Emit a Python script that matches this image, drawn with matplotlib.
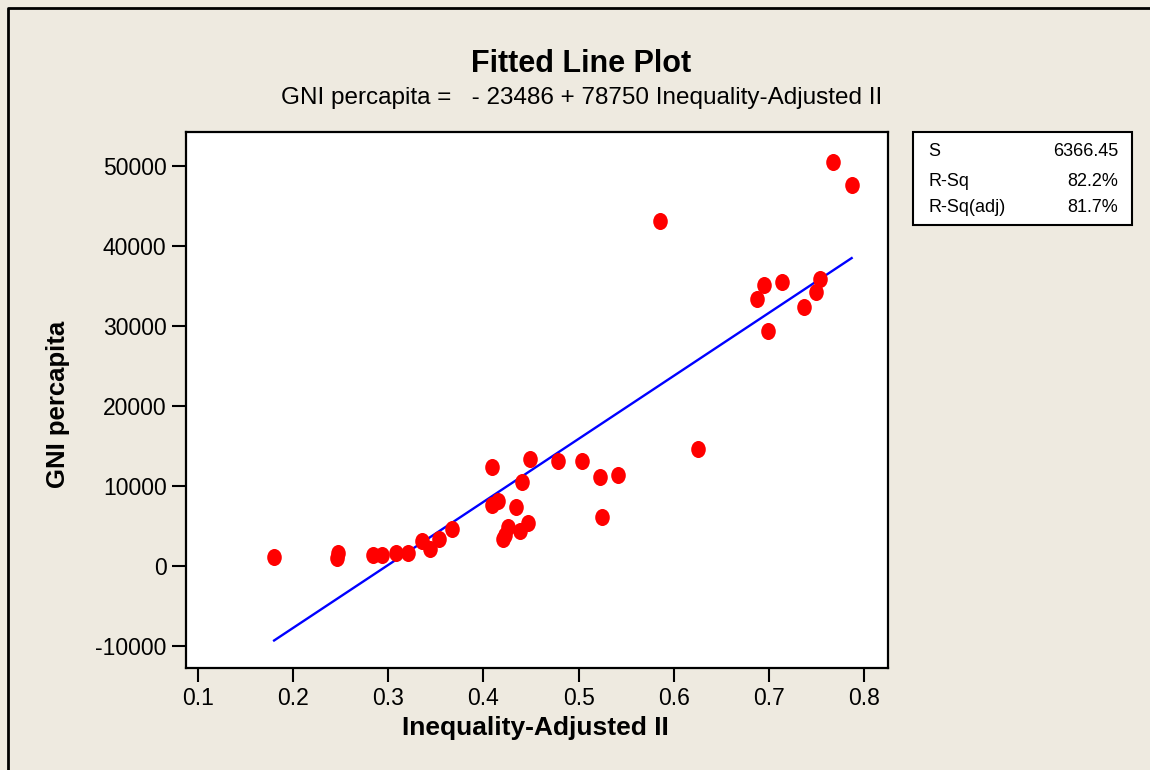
import matplotlib
matplotlib.use("Agg")
import numpy as np
from matplotlib import pyplot as plt
from matplotlib.markers import MarkerStyle
from matplotlib.transforms import Affine2D
from matplotlib.patches import Rectangle
from matplotlib.lines import Line2D

plt.rcParams['font.family'] = ['Liberation Sans', 'DejaVu Sans']

# data
iaii = [0.180, 0.246, 0.247, 0.284, 0.293, 0.308, 0.321, 0.335, 0.344, 0.353,
        0.367, 0.409, 0.409, 0.415, 0.421, 0.423, 0.426, 0.434, 0.438, 0.441,
        0.447, 0.449, 0.478, 0.504, 0.523, 0.525, 0.541, 0.586, 0.626, 0.687,
        0.695, 0.699, 0.714, 0.737, 0.750, 0.754, 0.767, 0.787]
gni = [1130, 1000, 1600, 1380, 1380, 1630, 1630, 3130, 2130, 3380,
       4630, 12380, 7630, 8130, 3380, 3900, 4880, 7380, 4380, 10500,
       5380, 13380, 13130, 13130, 11130, 6130, 11380, 43130, 14630, 33380,
       35130, 29380, 35500, 32380, 34250, 35880, 50500, 47630]

b0, b1 = -23486, 78750
stats_names = ["S", "R-Sq", "R-Sq(adj)"]
stats_vals = ["6366.45", "82.2%", "81.7%"]

bg = '#EEEAE0'
fig = plt.figure(figsize=(11.5, 7.7), dpi=100, facecolor=bg)
# outer frame: only top and left edges are inside the picture
fig.lines.append(Line2D([8 / 1150, 8 / 1150, 1.0], [0.0, 1 - 8 / 770, 1 - 8 / 770],
                        transform=fig.transFigure, color='black', linewidth=2))

ax = fig.add_axes([186 / 1150, 1 - 668 / 770, (888 - 186) / 1150, (668 - 132) / 770])
ax.set_facecolor('white')

xs = np.array(sorted(iaii))
ax.plot(xs, b0 + b1 * xs, color='#0000FF', linewidth=1.7, zorder=2)

mk = MarkerStyle('o', transform=Affine2D().scale(1, 1.17))
ax.plot(iaii, gni, linestyle='none', marker=mk, markersize=10.5,
        color='#FF0000', markeredgewidth=0, zorder=3)

ax.set_xlim(0.0874, 0.8252)
ax.set_ylim(-12750, 54250)
ax.set_xticks([0.1, 0.2, 0.3, 0.4, 0.5, 0.6, 0.7, 0.8])
ax.set_xticklabels(['0.1', '0.2', '0.3', '0.4', '0.5', '0.6', '0.7', '0.8'])
ax.set_yticks([-10000, 0, 10000, 20000, 30000, 40000, 50000])
ax.set_yticklabels(['-10000', '0', '10000', '20000', '30000', '40000', '50000'])
ax.tick_params(direction='out', length=10, width=1.5, labelsize=16.5, pad=4,
               top=False, right=False)
for s in ax.spines.values():
    s.set_linewidth(1.6)

fig.text(581 / 1150, 1 - 64 / 770, 'Fitted Line Plot', ha='center', va='center',
         fontsize=22, fontweight='bold')
fig.text(582 / 1150, 1 - 98 / 770,
         'GNI percapita =   - 23486 + 78750 Inequality-Adjusted II',
         ha='center', va='center', fontsize=17.5)
fig.text(535 / 1150, 1 - 728 / 770, 'Inequality-Adjusted II', ha='center', va='center',
         fontsize=19, fontweight='bold')
fig.text(58 / 1150, 1 - 404 / 770, 'GNI percapita', ha='center', va='center',
         rotation=90, fontsize=18.5, fontweight='bold')

# stats box
fig.patches.append(Rectangle((913 / 1150, 1 - 225 / 770), (1132 - 913) / 1150, (225 - 132) / 770,
                             transform=fig.transFigure, facecolor='white',
                             edgecolor='black', linewidth=1.5))
rows_y = [152, 181, 208]
for name, val, yy in zip(stats_names, stats_vals, rows_y):
    fig.text(928 / 1150, 1 - yy / 770, name, ha='left', va='center', fontsize=13)
    fig.text(1118 / 1150, 1 - yy / 770, val, ha='right', va='center', fontsize=13)

fig.savefig('out.png', dpi=100, facecolor=bg)
